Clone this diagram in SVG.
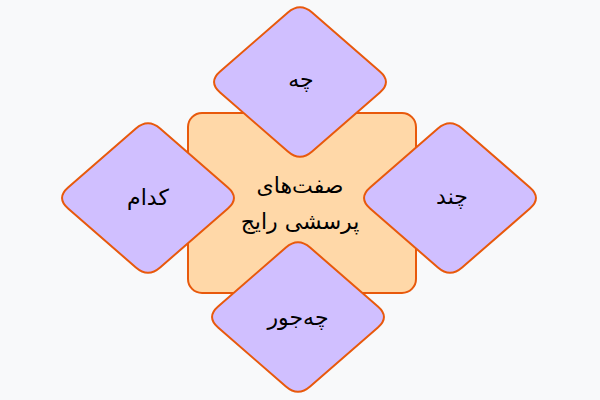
<svg xmlns="http://www.w3.org/2000/svg" width="600" height="400" viewBox="0 0 600 400">
<style>
.bg{fill:#f8f9fa}
.center{fill:#ffd8a8;stroke:#e8590c;stroke-width:2}
.dia{fill:#d0bfff;stroke:#e8590c;stroke-width:2}
text{font-family:"DejaVu Sans","Noto Sans",sans-serif;font-size:22px;fill:#000;text-anchor:middle;dominant-baseline:central}
</style>
<defs>
<path id="d" d="M -12.1,-69.5 Q 0,-80 12.1,-69.5 L 79.9,-10.5 Q 92,0 79.9,10.5 L 12.1,69.5 Q 0,80 -12.1,69.5 L -79.9,10.5 Q -92,0 -79.9,-10.5 Z"/>
</defs>
<rect class="bg" x="0" y="0" width="600" height="400"/>
<g id="center">
<rect class="center" x="188" y="113" width="228" height="180" rx="14"/>
<text x="300" y="185" direction="rtl">صفت‌های</text>
<text x="300" y="221" direction="rtl">پرسشی رایج</text>
</g>
<g id="connectors"></g>
<g id="top">
<use href="#d" class="dia" transform="translate(300,82)"/>
<text x="301" y="79" direction="rtl">چه</text>
</g>
<g id="left">
<use href="#d" class="dia" transform="translate(148,198)"/>
<text x="148" y="197" direction="rtl">کدام</text>
</g>
<g id="right">
<use href="#d" class="dia" transform="translate(450,198)"/>
<text x="452" y="196" direction="rtl">چند</text>
</g>
<g id="bottom">
<use href="#d" class="dia" transform="translate(298,317)"/>
<text x="298" y="317" direction="rtl">چه‌جور</text>
</g>
</svg>
